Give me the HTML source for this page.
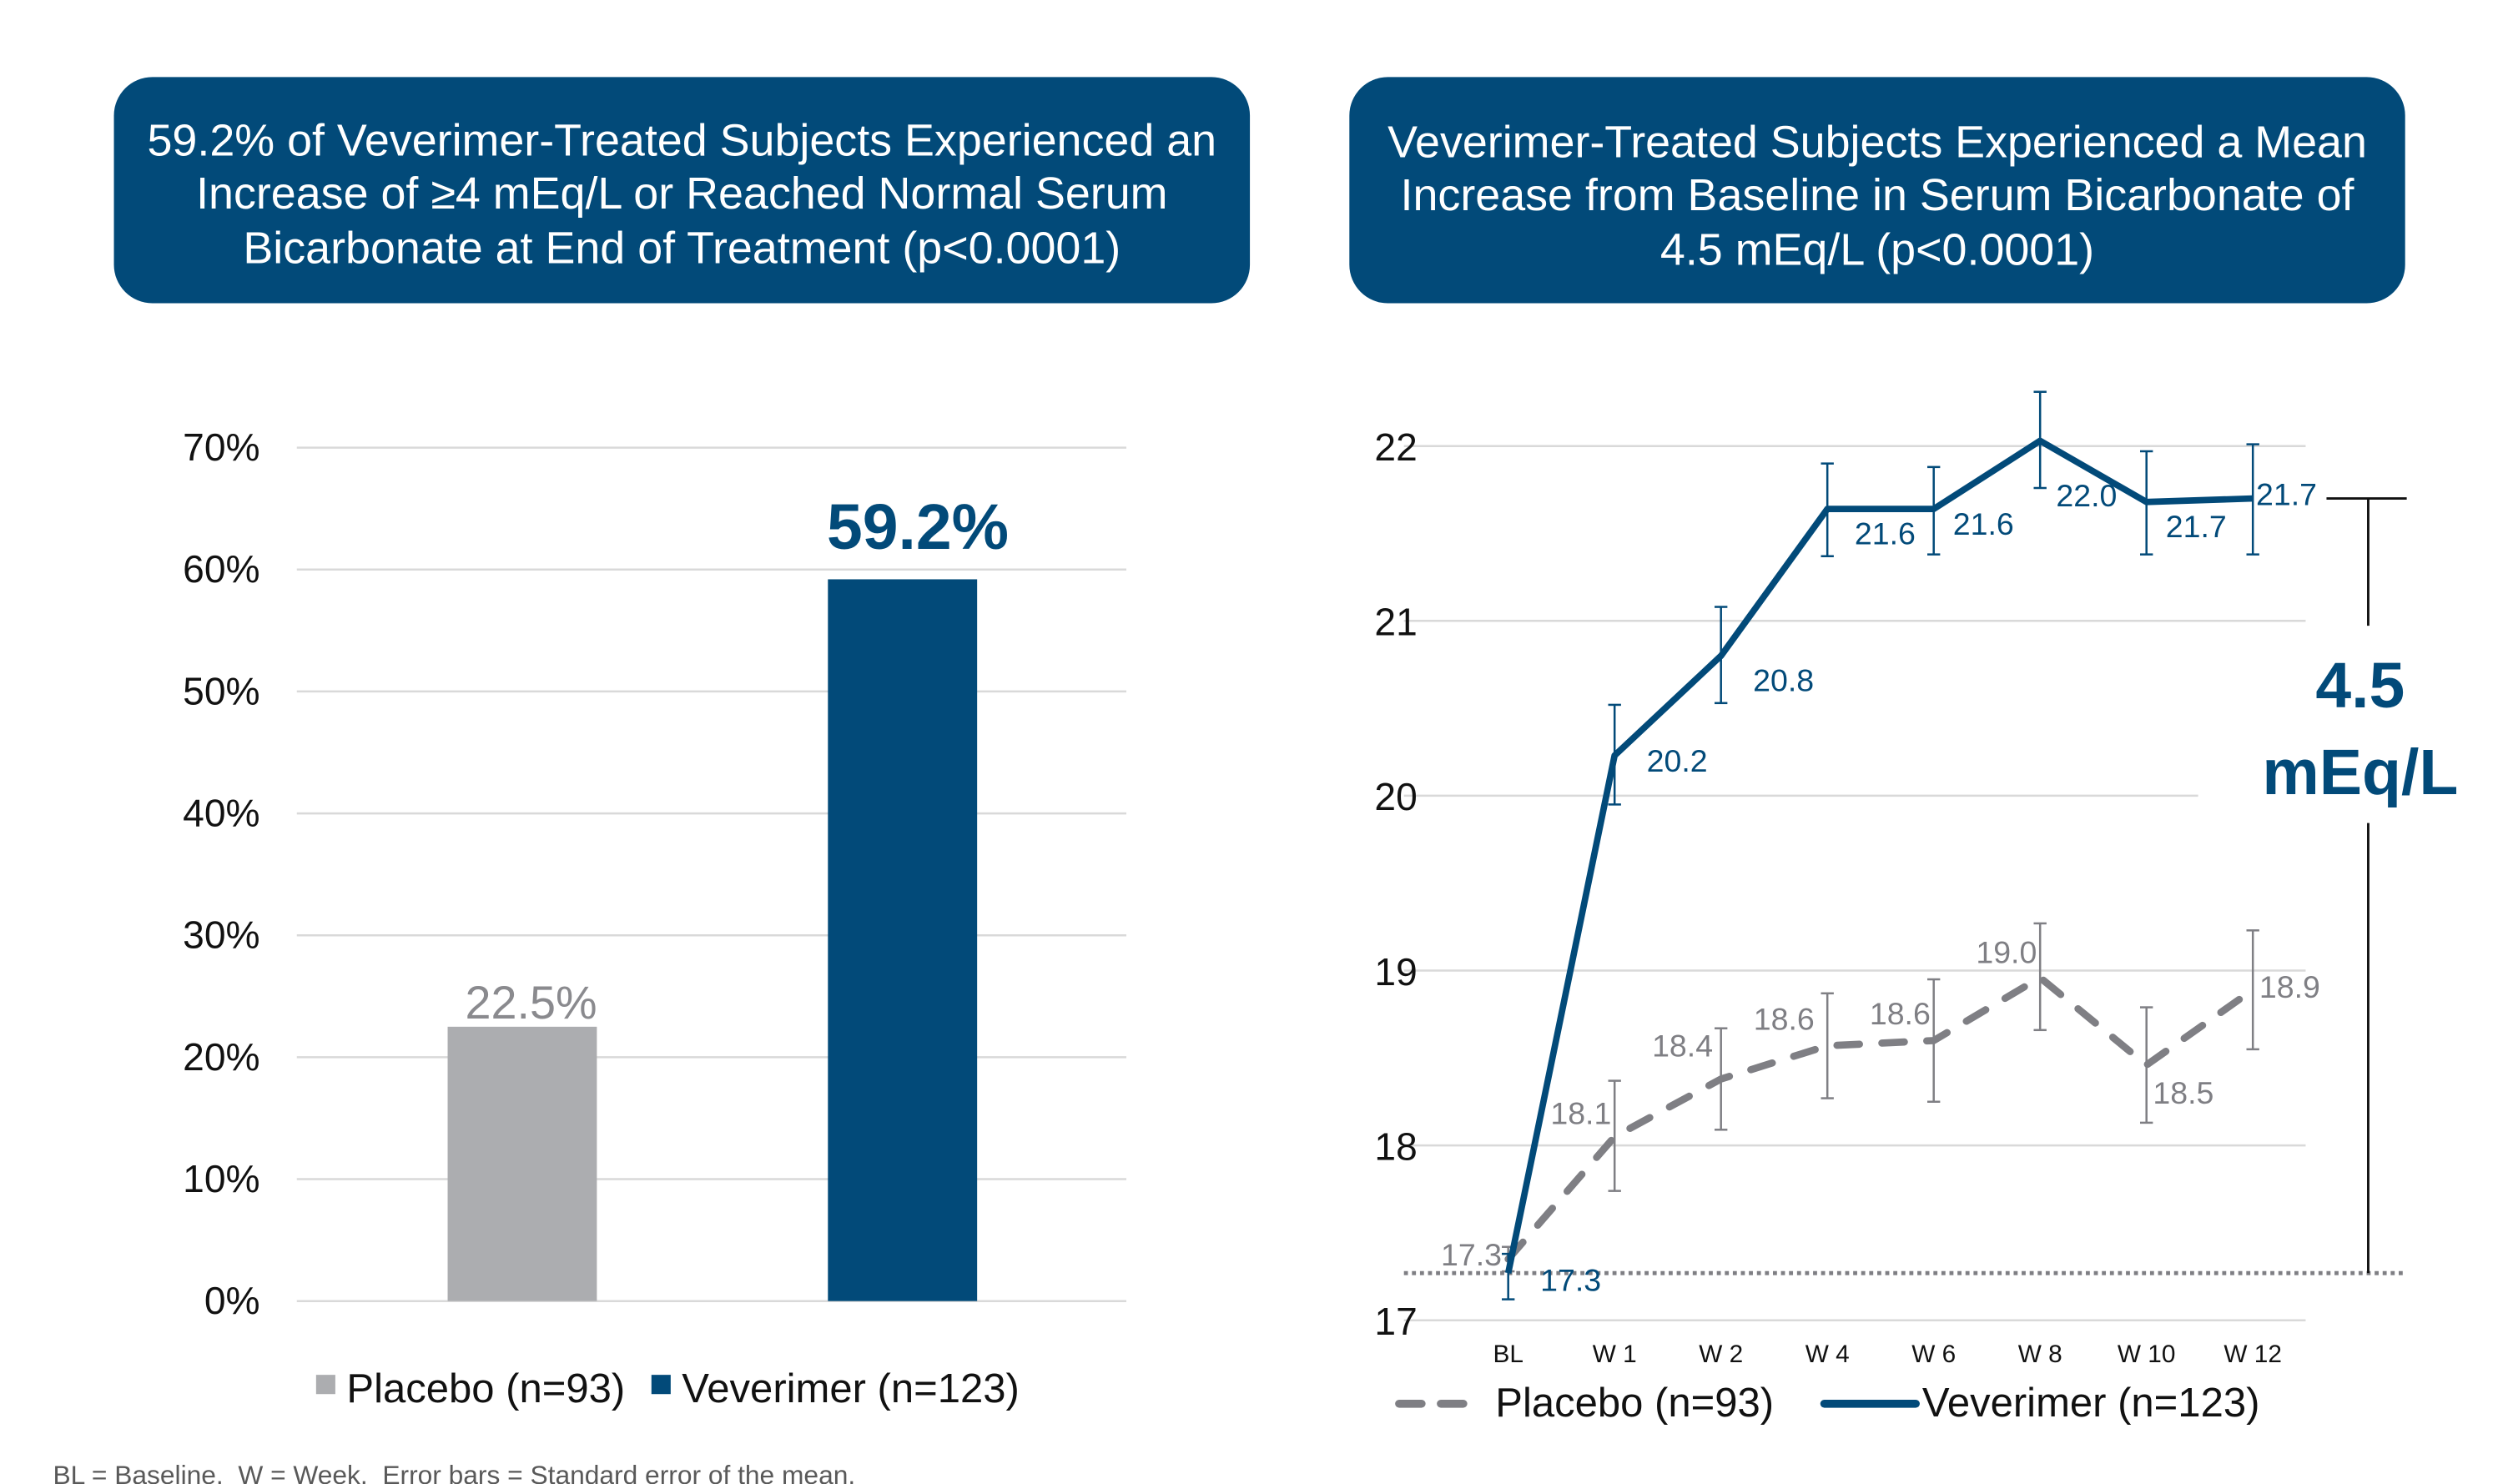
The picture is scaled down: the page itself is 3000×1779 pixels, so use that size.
<!DOCTYPE html>
<html><head><meta charset="utf-8"><style>
html,body{margin:0;padding:0;background:#fff;width:3000px;height:1779px;overflow:hidden}
svg{display:block;font-family:"Liberation Sans",Arial,sans-serif}
</style></head><body>
<svg id="root" width="3000" height="1779" viewBox="0 0 1560 925" xmlns="http://www.w3.org/2000/svg">
<g>
<rect x="71" y="48" width="708" height="141" rx="24" fill="#024a79"/>
<text x="425" y="97" fill="#fff" font-size="28" text-anchor="middle">59.2% of Veverimer-Treated Subjects Experienced an</text>
<text x="425" y="130" fill="#fff" font-size="28" text-anchor="middle">Increase of ≥4 mEq/L or Reached Normal Serum</text>
<text x="425" y="164" fill="#fff" font-size="28" text-anchor="middle">Bicarbonate at End of Treatment (p&lt;0.0001)</text>
</g>
<g>
<rect x="841" y="48" width="658" height="141" rx="24" fill="#024a79"/>
<text x="1170" y="98" fill="#fff" font-size="28" text-anchor="middle">Veverimer-Treated Subjects Experienced a Mean</text>
<text x="1170" y="131" fill="#fff" font-size="28" text-anchor="middle">Increase from Baseline in Serum Bicarbonate of</text>
<text x="1170" y="165" fill="#fff" font-size="28" text-anchor="middle">4.5 mEq/L (p&lt;0.0001)</text>
</g>
<g id="left"></g>
<g id="right"></g>
<text x="33" y="925" font-size="16.5" fill="#595959" style="white-space:pre" xml:space="preserve">BL = Baseline.  W = Week.  Error bars = Standard error of the mean.</text>
</svg>
<script>
const barCats=["Placebo (n=93)","Veverimer (n=123)"];
const barVals=[22.5,59.2];
const barTicks=[0,10,20,30,40,50,60,70];
const lineCats=["BL","W 1","W 2","W 4","W 6","W 8","W 10","W 12"];
const vevMean=[17.27,20.23,20.8,21.64,21.64,22.03,21.68,21.7];
const vevHi=[17.38,20.52,21.08,21.9,21.88,22.31,21.97,22.01];
const vevLo=[17.12,19.95,20.53,21.37,21.38,21.76,21.38,21.38];
const vevLbl=["17.3","20.2","20.8","21.6","21.6","22.0","21.7","21.7"];
const plaMean=[17.35,18.05,18.38,18.57,18.6,18.96,18.46,18.89];
const plaHi=[17.42,18.37,18.67,18.87,18.95,19.27,18.79,19.23];
const plaLo=[17.28,17.74,18.09,18.27,18.25,18.66,18.13,18.55];
const plaLbl=["17.3","18.1","18.4","18.6","18.6","19.0","18.5","18.9"];
const yTicks=[17,18,19,20,21,22];
const NS="http://www.w3.org/2000/svg";
function mk(p,tag,a,txt){const e=document.createElementNS(NS,tag);for(const k in a)e.setAttribute(k,a[k]);if(txt!==undefined)e.textContent=txt;p.appendChild(e);return e;}
const BLUE="#024a79",GRAY="#7f7f84";
// left bar chart
const L=document.getElementById('left');
const yb=p=>811-p*7.6;
barTicks.forEach(t=>{
 const g=mk(L,'line',{x1:185,x2:702,y1:yb(t),y2:yb(t),stroke:'#d9d9d9','stroke-width':1.3});
 
 
 const tx=mk(L,'text',{x:162,y:yb(t)+8,'font-size':24,'text-anchor':'end',fill:'#111'},t+'%');
 
 
});
const bx=[279,516],bcol=['#acadb0',BLUE];
barVals.forEach((v,i)=>{
 const r=mk(L,'rect',{x:bx[i],y:yb(v),width:93,height:yb(0)-yb(v),fill:bcol[i]});
 
 
 const t=i?mk(L,'text',{x:bx[i]+56,y:yb(v)-19,'font-size':40,'font-weight':'bold','text-anchor':'middle',fill:BLUE},v.toFixed(1)+'%'):mk(L,'text',{x:bx[i]+52,y:yb(v)-5,'font-size':29,'text-anchor':'middle',fill:'#8a8a8e'},v.toFixed(1)+'%');
 
 
});
[[197,216],[406,425]].forEach((p,i)=>{
 const g=mk(L,'g',{});
 
 
 mk(g,'rect',{x:p[0],y:857,width:12,height:12,fill:bcol[i]});
 mk(g,'text',{x:p[1],y:874,'font-size':25.5,fill:'#111'},barCats[i]);
});
// right line chart
const R=document.getElementById('right');
const xs=i=>940+i*66.3;
const ys=v=>823-(v-17)*109;
yTicks.forEach(t=>{
 const g=mk(R,'line',{x1:875,x2:t===20?1370:1437,y1:ys(t),y2:ys(t),stroke:'#d9d9d9','stroke-width':1.3});
 
 
 const tx=mk(R,'text',{x:870,y:ys(t)+9,'font-size':24,'text-anchor':'middle',fill:'#111'},t);
 
 
});
lineCats.forEach((c,i)=>{
 const t=mk(R,'text',{x:xs(i),y:849,'font-size':15.5,'text-anchor':'middle',fill:'#111'},c);
 
 
});
const base=mk(R,'line',{x1:875,x2:1500,y1:ys(17.27),y2:ys(17.27),stroke:GRAY,'stroke-width':2.5,'stroke-dasharray':'2.5 2.5'});


function series(mean,hi,lo,col,name,dash,lbls,offs){
 const g=mk(R,'g',{});
 
 
 mean.forEach((m,i)=>{
  const x=xs(i);
  mk(g,'line',{x1:x,x2:x,y1:ys(hi[i]),y2:ys(lo[i]),stroke:col,'stroke-width':1.3});
  mk(g,'line',{x1:x-4,x2:x+4,y1:ys(hi[i]),y2:ys(hi[i]),stroke:col,'stroke-width':1.3});
  mk(g,'line',{x1:x-4,x2:x+4,y1:ys(lo[i]),y2:ys(lo[i]),stroke:col,'stroke-width':1.3});
 });
 const pl=mk(g,'polyline',{points:mean.map((m,i)=>xs(i)+','+ys(m)).join(' '),fill:'none',stroke:col,'stroke-width':dash?4.5:4,'stroke-linejoin':'round','stroke-linecap':dash?'round':'butt'});
 if(dash)pl.setAttribute('stroke-dasharray','14 14');
 
 
 mean.forEach((m,i)=>{
  const o=offs[i];
  const t=mk(g,'text',{x:xs(i)+o[0],y:ys(m)+o[1],'font-size':19.5,'text-anchor':o[2],fill:col},lbls[i]);
  
  
 });
}
series(plaMean,plaHi,plaLo,GRAY,'placebo',true,plaLbl,[[-4,4,'end'],[-2,-8,'end'],[-5,-14,'end'],[-8,-10,'end'],[-2,-10,'end'],[-2,-9,'end'],[4,24,'start'],[4,5,'start']]);
series(vevMean,vevHi,vevLo,BLUE,'veverimer',false,vevLbl,[[20,11,'start'],[20,10,'start'],[20,22,'start'],[17,22,'start'],[12,16,'start'],[10,41,'start'],[12,22,'start'],[2,4,'start']]);
// bracket
const br=mk(R,'g',{});


mk(br,'line',{x1:1450,x2:1500,y1:ys(21.7),y2:ys(21.7),stroke:'#111','stroke-width':1.5});
mk(br,'line',{x1:1476,x2:1476,y1:ys(21.7),y2:390,stroke:'#111','stroke-width':1.5});
mk(br,'line',{x1:1476,x2:1476,y1:513,y2:ys(17.27),stroke:'#111','stroke-width':1.5});
const a1=mk(R,'text',{x:1471,y:441,'font-size':40,'font-weight':'bold','text-anchor':'middle',fill:BLUE},'4.5');


const a2=mk(R,'text',{x:1471,y:495,'font-size':40,'font-weight':'bold','text-anchor':'middle',fill:BLUE},'mEq/L');


// legend
const lg1=mk(R,'g',{});


mk(lg1,'line',{x1:872,x2:920,y1:875,y2:875,stroke:GRAY,'stroke-width':5,'stroke-dasharray':'14 12','stroke-linecap':'round'});
mk(lg1,'text',{x:932,y:883,'font-size':25.5,fill:'#111'},'Placebo (n=93)');
const lg2=mk(R,'g',{});


mk(lg2,'line',{x1:1137,x2:1194,y1:875,y2:875,stroke:BLUE,'stroke-width':5,'stroke-linecap':'round'});
mk(lg2,'text',{x:1198,y:883,'font-size':25.5,fill:'#111'},'Veverimer (n=123)');
</script>
</body></html>
